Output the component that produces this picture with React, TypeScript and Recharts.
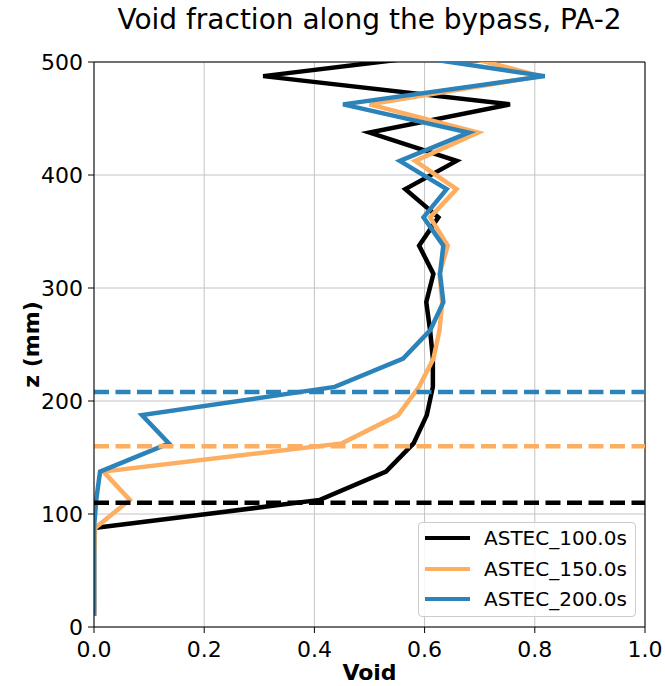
import React from 'react';
import { LineChart, Line, XAxis, YAxis, CartesianGrid, ReferenceLine } from 'recharts';

// z positions (mm) of the computed cells
const zValues = [10, 37.5, 62.5, 87.5, 112.5, 137.5, 162.5, 187.5, 212.5, 237.5, 262.5, 287.5, 312.5, 337.5, 362.5, 387.5, 412.5, 437.5, 462.5, 487.5, 512.5];
// void fraction per series
const void100 = [0, 0, 0, 0, 0.41, 0.53, 0.58, 0.604, 0.615, 0.615, 0.61, 0.603, 0.616, 0.59, 0.625, 0.565, 0.658, 0.5, 0.755, 0.307, 0.73];
const void150 = [0, 0, 0, 0.002, 0.065, 0.017, 0.45, 0.552, 0.59, 0.616, 0.627, 0.632, 0.627, 0.642, 0.61, 0.658, 0.583, 0.697, 0.5, 0.81, 0.614];
const void200 = [0, 0, 0, 0, 0.004, 0.011, 0.136, 0.087, 0.437, 0.561, 0.61, 0.634, 0.628, 0.634, 0.598, 0.64, 0.555, 0.68, 0.452, 0.818, 0.474];

const seriesNames = ['ASTEC_100.0s', 'ASTEC_150.0s', 'ASTEC_200.0s'];
const seriesColors = ['#000000', '#fdae61', '#2b83ba'];
// swell level (mm) per series, dashed
const levelValues = [110, 160, 208];

const xTicks = [0, 0.2, 0.4, 0.6, 0.8, 1.0];
const yTicks = [0, 100, 200, 300, 400, 500];

const titleText = 'Void fraction along the bypass, PA-2';
const xLabel = 'Void';
const yLabel = 'z (mm)';

const data = zValues.map((z, i) => ({
  z,
  s0: void100[i],
  s1: void150[i],
  s2: void200[i],
}));

const FONT = '"DejaVu Sans", sans-serif';

export default function App() {
  const W = 665;
  const H = 686;
  const yAxisW = 80;
  const xAxisH = 50;
  const plotLeft = 94;
  const plotRight = 645;
  const plotTop = 62;
  const plotBottom = 627;
  return (
    <div style={{ position: 'absolute', left: 0, top: 0, width: W, height: H, background: '#fff', fontFamily: FONT }}>
      <LineChart
        width={W}
        height={H}
        data={data}
        layout="vertical"
        margin={{ top: plotTop, right: W - plotRight, bottom: H - plotBottom - xAxisH, left: plotLeft - yAxisW }}
      >
        <CartesianGrid stroke="#c4c4c4" strokeWidth={1} horizontalValues={yTicks} verticalValues={xTicks} />
        <XAxis
          type="number"
          dataKey="s0"
          domain={[0, 1]}
          ticks={xTicks}
          allowDataOverflow
          height={xAxisH}
          tickFormatter={(v: number) => v.toFixed(1)}
          tick={{ fill: '#000', fontSize: 22, fontFamily: FONT }}
          tickSize={6}
          tickMargin={8}
          axisLine={{ stroke: '#000', strokeWidth: 1 }}
          tickLine={{ stroke: '#000', strokeWidth: 1 }}
          interval={0}
        />
        <YAxis
          type="number"
          dataKey="z"
          domain={[0, 500]}
          ticks={yTicks}
          reversed
          allowDataOverflow
          width={yAxisW}
          tick={{ fill: '#000', fontSize: 22, fontFamily: FONT }}
          tickSize={6}
          tickMargin={5}
          axisLine={{ stroke: '#000', strokeWidth: 1 }}
          tickLine={{ stroke: '#000', strokeWidth: 1 }}
          interval={0}
        />
        <ReferenceLine x={1} stroke="#000" strokeWidth={1} />
        <ReferenceLine y={500} stroke="#000" strokeWidth={1} />
        {seriesNames.map((name, i) => (
          <Line
            key={name}
            name={name}
            dataKey={`s${i}`}
            stroke={seriesColors[i]}
            strokeWidth={4.5}
            dot={false}
            activeDot={false}
            isAnimationActive={false}
            type="linear"
          />
        ))}
        {levelValues.map((lv, i) => (
          <ReferenceLine
            key={`lv${i}`}
            y={lv}
            stroke={seriesColors[i]}
            strokeWidth={4.5}
            strokeDasharray="15 6.5"
          />
        ))}
      </LineChart>
      <svg width={W} height={H} style={{ position: 'absolute', left: 0, top: 0, pointerEvents: 'none' }}>
        <text x={(plotLeft + plotRight) / 2} y={29} textAnchor="middle" fontSize={28} fontFamily={FONT} fill="#000">
          {titleText}
        </text>
        <text x={(plotLeft + plotRight) / 2} y={680} textAnchor="middle" fontSize={22} fontWeight="bold" fontFamily={FONT} fill="#000">
          {xLabel}
        </text>
        <text
          x={39}
          y={(plotTop + plotBottom) / 2}
          textAnchor="middle"
          fontSize={22}
          fontWeight="bold"
          fontFamily={FONT}
          fill="#000"
          transform={`rotate(-90 39 ${(plotTop + plotBottom) / 2})`}
        >
          {yLabel}
        </text>
      </svg>
      <div
        style={{
          position: 'absolute',
          left: 418,
          top: 522,
          width: 218,
          height: 95,
          boxSizing: 'border-box',
          border: '1px solid #cccccc',
          borderRadius: 4,
          background: 'rgba(255,255,255,0.85)',
        }}
      >
        {seriesNames.map((name, i) => (
          <div key={name} style={{ position: 'absolute', left: 0, top: i * 30.5, height: 30, width: '100%' }}>
            <div style={{ position: 'absolute', left: 6, top: 13, width: 45, height: 4, background: seriesColors[i] }} />
            <div style={{ position: 'absolute', left: 65, top: 2, fontSize: 20, lineHeight: '26px', fontFamily: FONT, color: '#000', whiteSpace: 'nowrap' }}>
              {name}
            </div>
          </div>
        ))}
      </div>
    </div>
  );
}
